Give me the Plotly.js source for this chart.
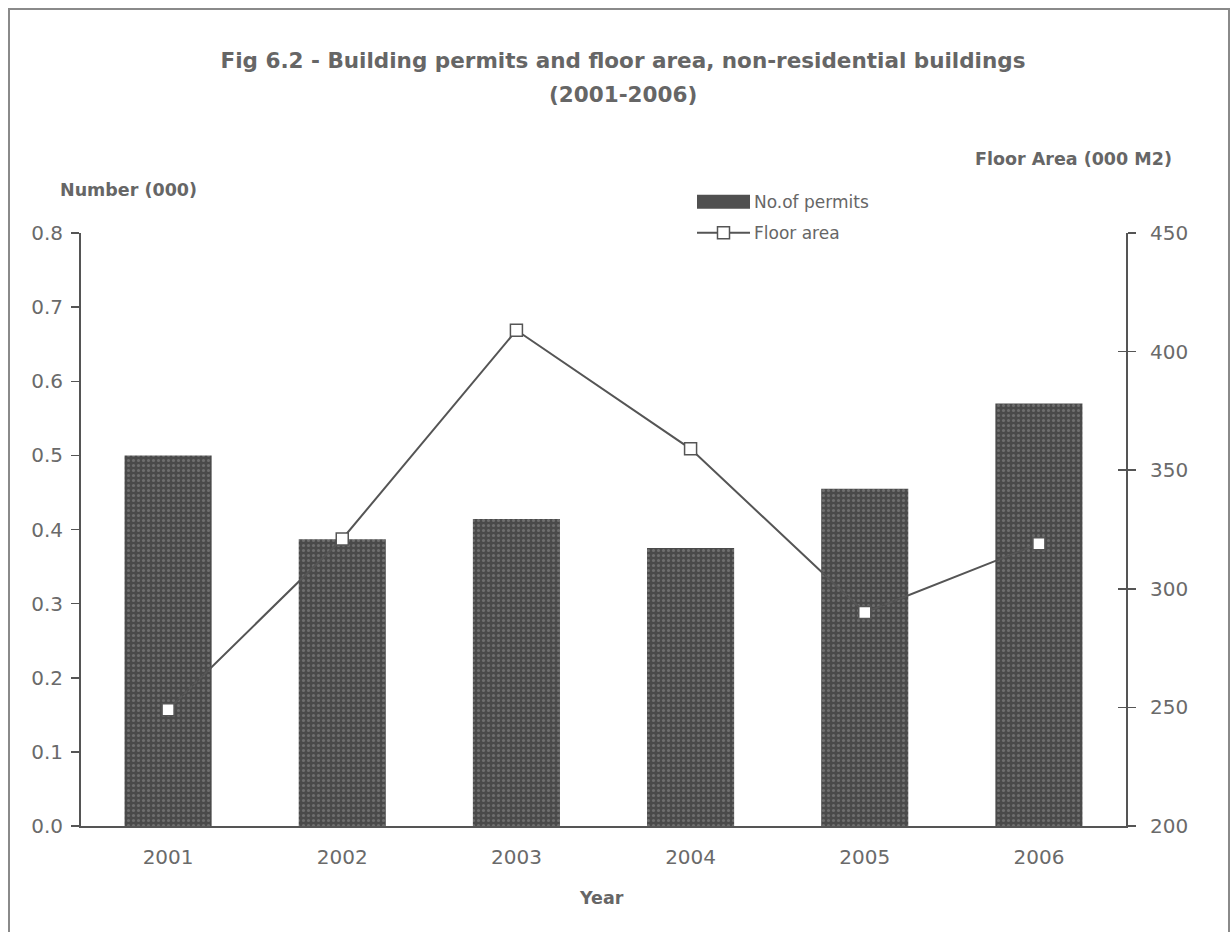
<!DOCTYPE html>
<html>
<head>
<meta charset="utf-8">
<script src="https://cdn.plot.ly/plotly-3.0.1.min.js"></script>
<style>
  html, body { margin: 0; padding: 0; background: #ffffff; overflow: hidden; }
  #chart { width: 1231px; height: 932px; }
  #frame { position: absolute; left: 8px; top: 8px; width: 1222px; height: 1000px;
           box-sizing: border-box; border: 2px solid #8a8a8a; pointer-events: none; }
</style>
</head>
<body>
<div id="chart"></div>
<div id="frame"></div>
<script>
// ---- data ----
const years = ['2001', '2002', '2003', '2004', '2005', '2006'];
const permits = [0.50, 0.387, 0.414, 0.375, 0.455, 0.570];      // Number (000)
const floorArea = [249, 321, 409, 359, 290, 319];               // Floor Area (000 M2)
const seriesNames = ['No.of permits', 'Floor area'];
const titleLines = ['Fig 6.2 - Building permits and floor area, non-residential buildings', '(2001-2006)'];
const leftTitle = 'Number (000)';
const rightTitle = 'Floor Area (000 M2)';
const xTitle = 'Year';

// ---- geometry helpers (plot area in pixels) ----
const W = 1231, H = 932;
const PL = 81, PR = 1126, PT = 233.3, PB = 825.7;
const px = x => (x - PL) / (PR - PL);
const py = y => (PB - y) / (PB - PT);

const grey = '#555555';
const textGrey = '#666666';
const tickFont = { family: 'DejaVu Sans', size: 20, color: '#6a6a6a' };
const titleFont = { family: 'DejaVu Sans', size: 17.5, color: textGrey, weight: 'bold' };
const mainFont = { family: 'DejaVu Sans', size: 21.5, color: textGrey, weight: 'bold' };

const bars = {
  type: 'bar', x: years, y: permits, name: seriesNames[0], yaxis: 'y',
  marker: {
    color: '#4e4e4e', line: { width: 0 },
    pattern: { shape: '.', bgcolor: '#4a4a4a', fgcolor: '#6e6e6e', size: 5, solidity: 0.3 }
  },
  hoverinfo: 'x+y'
};
const line = {
  type: 'scatter', mode: 'lines+markers', x: years, y: floorArea, name: seriesNames[1], yaxis: 'y2',
  line: { color: grey, width: 2 },
  marker: { symbol: 'square', size: 12, color: '#ffffff', line: { color: grey, width: 1.5 } },
  cliponaxis: false
};
// carrier for the inward half of the right-axis ticks
const rightTicksCarrier = {
  type: 'scatter', mode: 'lines', x: years, y: floorArea, yaxis: 'y3',
  line: { width: 0 }, opacity: 0, hoverinfo: 'skip', showlegend: false
};

const layout = {
  width: W, height: H,
  margin: { l: PL, r: W - PR, t: PT, b: H - PB, pad: 0 },
  paper_bgcolor: '#ffffff', plot_bgcolor: '#ffffff',
  showlegend: false,
  bargap: 0.5,
  title: {
    text: titleLines[0],
    font: mainFont,
    xref: 'container', x: 623 / W, xanchor: 'center',
    yref: 'container', y: 1 - 60 / H, yanchor: 'middle'
  },
  xaxis: {
    type: 'category', range: [-0.5, 5.5],
    showline: true, linecolor: grey, linewidth: 2,
    ticks: '', tickfont: tickFont, showgrid: false, zeroline: false,
    ticklabelstandoff: 12
  },
  yaxis: {
    range: [0, 0.8], dtick: 0.1, tickformat: '.1f',
    ticks: 'outside', ticklen: 8, tickwidth: 1.5, tickcolor: grey,
    showline: true, linecolor: grey, linewidth: 2,
    showgrid: false, zeroline: false, tickfont: tickFont, ticklabelstandoff: 4
  },
  yaxis2: {
    overlaying: 'y', side: 'right', range: [200, 450], dtick: 50,
    ticks: 'outside', ticklen: 8, tickwidth: 1.5, tickcolor: grey,
    showline: true, linecolor: grey, linewidth: 2,
    showgrid: false, zeroline: false, tickfont: tickFont, ticklabelstandoff: 10
  },
  yaxis3: {
    overlaying: 'y', side: 'right', range: [200, 450], dtick: 50,
    ticks: 'inside', ticklen: 8, tickwidth: 1.5, tickcolor: grey,
    showline: false, showticklabels: false, showgrid: false, zeroline: false
  },
  shapes: [
    // legend: bar swatch
    { type: 'rect', xref: 'paper', yref: 'paper', x0: px(697), x1: px(750), y0: py(209), y1: py(195),
      fillcolor: '#505050', line: { width: 0 } },
    // legend: line with marker
    { type: 'line', xref: 'paper', yref: 'paper', x0: px(697), x1: px(750), y0: py(233), y1: py(233),
      line: { color: grey, width: 2 } },
    { type: 'rect', xref: 'paper', yref: 'paper', x0: px(717.5), x1: px(729.5), y0: py(239), y1: py(227),
      fillcolor: '#ffffff', line: { color: grey, width: 1.5 } }
  ],
  annotations: [
    { text: titleLines[1], xref: 'paper', yref: 'paper', x: px(623), y: py(94.5), xanchor: 'center', yanchor: 'middle',
      showarrow: false, font: mainFont },
    { text: leftTitle, xref: 'paper', yref: 'paper', x: px(58), y: py(190), xanchor: 'left', yanchor: 'middle',
      showarrow: false, font: titleFont },
    { text: rightTitle, xref: 'paper', yref: 'paper', x: px(1174), y: py(159), xanchor: 'right', yanchor: 'middle',
      showarrow: false, font: titleFont },
    { text: xTitle, xref: 'paper', yref: 'paper', x: px(601), y: py(898), xanchor: 'center', yanchor: 'middle',
      showarrow: false, font: titleFont },
    { text: seriesNames[0], xref: 'paper', yref: 'paper', x: px(752), y: py(202), xanchor: 'left', yanchor: 'middle',
      showarrow: false, font: { family: 'DejaVu Sans', size: 17, color: textGrey } },
    { text: seriesNames[1], xref: 'paper', yref: 'paper', x: px(752), y: py(233), xanchor: 'left', yanchor: 'middle',
      showarrow: false, font: { family: 'DejaVu Sans', size: 17, color: textGrey } }
  ]
};

Plotly.newPlot('chart', [bars, line, rightTicksCarrier], layout, { displayModeBar: false, staticPlot: true });
</script>
</body>
</html>
